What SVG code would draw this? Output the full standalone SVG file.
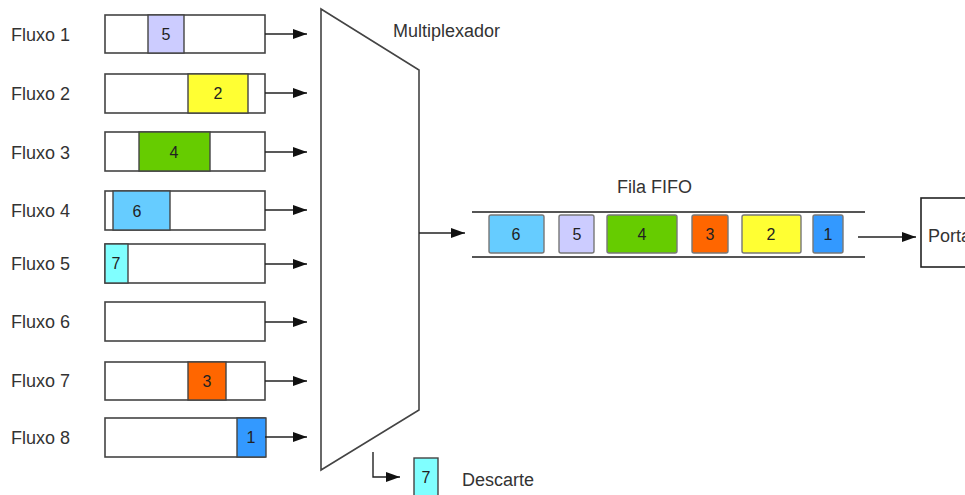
<svg xmlns="http://www.w3.org/2000/svg" width="965" height="495" viewBox="0 0 965 495">
  <defs>
    <marker id="arrow" viewBox="0 0 14 10" refX="14" refY="5" markerWidth="14" markerHeight="10" markerUnits="userSpaceOnUse" orient="auto">
      <path d="M0,0 L14,5 L0,10 z" fill="#111"/>
    </marker>
  </defs>
  <style>
    text { font-family: "Liberation Sans", Arial, sans-serif; fill: #333; }
    .lbl { font-size: 18px; }
    .num { font-size: 16px; text-anchor: middle; fill: #222; }
    .buf { fill: #fff; stroke: #444; stroke-width: 1.6; }
    .pkt { stroke: #444; stroke-width: 1.4; }
    .qpkt { stroke: #777; stroke-width: 1.4; }
    .conn { fill: none; stroke: #222; stroke-width: 1.4; marker-end: url(#arrow); }
    .p1 { fill: #3399ff; }
    .p2 { fill: #ffff33; }
    .p3 { fill: #ff6600; }
    .p4 { fill: #66cc00; }
    .p5 { fill: #ccccff; }
    .p6 { fill: #66ccff; }
    .p7 { fill: #80ffff; }
  </style>
  <rect width="965" height="495" fill="#fff"/>

  <!-- input flows -->
  <g id="fluxo1">
    <text class="lbl" x="11" y="41">Fluxo 1</text>
    <rect class="buf" x="105" y="15" width="160" height="38"/>
    <rect class="pkt p5" x="148" y="15" width="36" height="38"/>
    <text class="num" x="166" y="40">5</text>
  </g>
  <g id="fluxo2">
    <text class="lbl" x="11" y="100">Fluxo 2</text>
    <rect class="buf" x="105" y="74" width="160" height="39"/>
    <rect class="pkt p2" x="188" y="74" width="60" height="39"/>
    <text class="num" x="218" y="99">2</text>
  </g>
  <g id="fluxo3">
    <text class="lbl" x="11" y="159">Fluxo 3</text>
    <rect class="buf" x="105" y="132" width="160" height="39"/>
    <rect class="pkt p4" x="139" y="132" width="71" height="39"/>
    <text class="num" x="174" y="158">4</text>
  </g>
  <g id="fluxo4">
    <text class="lbl" x="11" y="217">Fluxo 4</text>
    <rect class="buf" x="105" y="191" width="160" height="39"/>
    <rect class="pkt p6" x="113" y="191" width="57" height="39"/>
    <text class="num" x="137" y="217">6</text>
  </g>
  <g id="fluxo5">
    <text class="lbl" x="11" y="270">Fluxo 5</text>
    <rect class="buf" x="105" y="244" width="160" height="39"/>
    <rect class="pkt p7" x="105" y="244" width="23" height="39"/>
    <text class="num" x="116" y="269">7</text>
  </g>
  <g id="fluxo6">
    <text class="lbl" x="11" y="328">Fluxo 6</text>
    <rect class="buf" x="105" y="302" width="160" height="39"/>
  </g>
  <g id="fluxo7">
    <text class="lbl" x="11" y="387">Fluxo 7</text>
    <rect class="buf" x="105" y="362" width="160" height="38"/>
    <rect class="pkt p3" x="188" y="362" width="38" height="38"/>
    <text class="num" x="207" y="387">3</text>
  </g>
  <g id="fluxo8">
    <text class="lbl" x="11" y="444">Fluxo 8</text>
    <rect class="buf" x="105" y="418" width="160" height="39"/>
    <rect class="pkt p1" x="237" y="418" width="29" height="39"/>
    <text class="num" x="251" y="443">1</text>
  </g>

  <!-- multiplexer -->
  <g id="multiplexador">
    <path d="M321,9 L419,70 L419,410 L321,470 Z" fill="#fff" stroke="#444" stroke-width="1.6"/>
    <text class="lbl" x="393" y="37">Multiplexador</text>
  </g>

  <!-- FIFO queue -->
  <g id="fila">
    <text class="lbl" x="617" y="193">Fila FIFO</text>
    <line x1="472" y1="212" x2="865" y2="212" stroke="#555" stroke-width="2"/>
    <line x1="472" y1="257" x2="865" y2="257" stroke="#555" stroke-width="2"/>
    <rect class="qpkt p6" x="489" y="215" width="55" height="38" rx="2"/>
    <text class="num" x="516" y="240">6</text>
    <rect class="qpkt p5" x="559" y="215" width="35" height="38" rx="2"/>
    <text class="num" x="577" y="240">5</text>
    <rect class="qpkt p4" x="607" y="215" width="70" height="38" rx="2"/>
    <text class="num" x="642" y="240">4</text>
    <rect class="qpkt p3" x="692" y="215" width="36" height="38" rx="2"/>
    <text class="num" x="710" y="240">3</text>
    <rect class="qpkt p2" x="742" y="215" width="59" height="38" rx="2"/>
    <text class="num" x="771" y="240">2</text>
    <rect class="qpkt p1" x="813" y="215" width="30" height="38" rx="2"/>
    <text class="num" x="828" y="240">1</text>
  </g>

  <!-- output port -->
  <g id="porta">
    <rect x="921" y="198" width="60" height="69" fill="#fff" stroke="#222" stroke-width="1.6"/>
    <text class="lbl" x="928" y="242">Porta</text>
  </g>

  <!-- discarded packet -->
  <g id="descarte">
    <rect class="pkt p7" x="414" y="458" width="24" height="40"/>
    <text class="num" x="426" y="483">7</text>
    <text class="lbl" x="462" y="486">Descarte</text>
  </g>

  <!-- connectors -->
  <g id="conectores">
    <line class="conn" x1="265" y1="34" x2="307" y2="34"/>
    <line class="conn" x1="265" y1="93" x2="307" y2="93"/>
    <line class="conn" x1="265" y1="152" x2="307" y2="152"/>
    <line class="conn" x1="265" y1="210" x2="307" y2="210"/>
    <line class="conn" x1="265" y1="264" x2="307" y2="264"/>
    <line class="conn" x1="265" y1="322" x2="307" y2="322"/>
    <line class="conn" x1="265" y1="381" x2="307" y2="381"/>
    <line class="conn" x1="265" y1="437" x2="307" y2="437"/>
    <line class="conn" x1="419" y1="233" x2="465" y2="233"/>
    <line class="conn" x1="858" y1="237" x2="916" y2="237"/>
    <polyline class="conn" points="373,452 373,477 400,477"/>
  </g>
</svg>
